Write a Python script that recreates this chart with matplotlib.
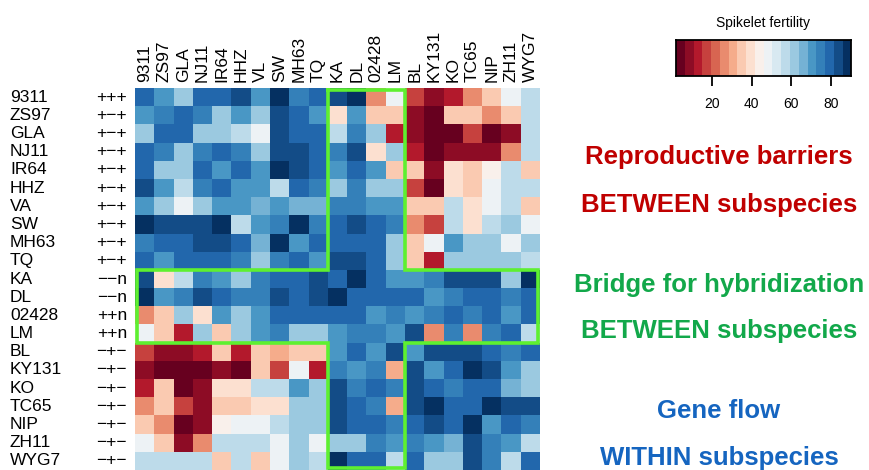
import numpy as np
import matplotlib
matplotlib.use("Agg")
import matplotlib.pyplot as plt
from matplotlib.colors import ListedColormap, BoundaryNorm

plt.rcParams['font.family'] = ['Liberation Sans', 'DejaVu Sans']

lines = ["9311", "ZS97", "GLA", "NJ11", "IR64", "HHZ", "VA", "SW", "MH63", "TQ",
         "KA", "DL", "02428", "LM", "BL", "KY131", "KO", "TC65", "NIP", "ZH11", "WYG7"]
col_lines = ["9311", "ZS97", "GLA", "NJ11", "IR64", "HHZ", "VL", "SW", "MH63", "TQ",
             "KA", "DL", "02428", "LM", "BL", "KY131", "KO", "TC65", "NIP", "ZH11", "WYG7"]
genotypes = ["+++", "+−+", "+−+", "+−+", "+−+", "+−+", "+−+", "+−+", "+−+", "+−+",
             "−−n", "−−n", "++n", "++n", "−+−", "−+−", "−+−", "−+−", "−+−", "−+−", "−+−"]
bridge = ["KA", "DL", "02428", "LM"]

# spikelet fertility (%), female line (rows) x male line (cols)
fert = np.array([
    [81, 72, 63, 81, 81, 83, 72, 90, 76, 81, 83, 90, 25, 47, 19, 7, 12, 25, 33, 47, 55],
    [72, 76, 81, 76, 63, 68, 63, 83, 81, 72, 41, 72, 33, 33, 7, 3, 33, 33, 25, 33, 55],
    [63, 81, 81, 63, 63, 55, 47, 83, 81, 81, 55, 76, 63, 14, 7, 3, 3, 19, 3, 7, 55],
    [81, 76, 63, 76, 81, 76, 63, 83, 83, 81, 76, 83, 41, 63, 12, 3, 7, 7, 7, 25, 55],
    [81, 63, 63, 81, 68, 81, 72, 90, 83, 81, 68, 81, 72, 33, 33, 7, 41, 33, 44, 55, 33],
    [83, 68, 55, 76, 81, 72, 72, 55, 81, 76, 63, 76, 63, 63, 17, 3, 41, 33, 47, 55, 55],
    [72, 63, 47, 63, 72, 72, 66, 72, 66, 66, 76, 76, 68, 72, 33, 33, 55, 41, 47, 55, 33],
    [90, 83, 83, 83, 90, 55, 72, 76, 90, 76, 81, 83, 81, 76, 27, 19, 55, 41, 55, 63, 47],
    [76, 81, 81, 83, 83, 81, 66, 90, 72, 81, 81, 81, 81, 60, 33, 47, 68, 63, 63, 46, 63],
    [81, 72, 81, 81, 81, 76, 63, 76, 81, 72, 83, 83, 81, 63, 33, 12, 63, 63, 63, 63, 55],
    [83, 41, 55, 76, 68, 63, 76, 81, 81, 83, 81, 90, 81, 72, 72, 76, 83, 83, 83, 63, 90],
    [90, 72, 76, 83, 81, 76, 76, 83, 81, 83, 90, 81, 81, 81, 81, 72, 76, 81, 81, 76, 81],
    [25, 33, 63, 41, 72, 63, 68, 81, 81, 81, 81, 81, 72, 76, 72, 76, 81, 76, 81, 68, 81],
    [47, 33, 14, 63, 33, 63, 72, 76, 63, 63, 72, 76, 76, 72, 83, 27, 76, 27, 76, 81, 55],
    [19, 7, 7, 12, 33, 14, 33, 29, 33, 33, 72, 81, 72, 83, 72, 83, 83, 83, 81, 76, 81],
    [7, 3, 3, 3, 7, 3, 33, 19, 47, 12, 76, 72, 76, 29, 83, 72, 81, 90, 83, 72, 63],
    [12, 33, 3, 7, 41, 41, 55, 55, 68, 63, 83, 76, 81, 76, 83, 81, 76, 81, 81, 66, 63],
    [25, 33, 19, 7, 33, 33, 41, 41, 63, 60, 83, 81, 76, 29, 83, 90, 81, 81, 90, 83, 83],
    [33, 25, 3, 7, 43, 47, 47, 55, 63, 63, 83, 81, 81, 76, 81, 83, 81, 90, 72, 81, 76],
    [47, 33, 7, 25, 55, 55, 55, 47, 63, 46, 63, 63, 76, 68, 76, 72, 66, 83, 76, 72, 57],
    [55, 55, 55, 55, 33, 55, 33, 47, 63, 55, 90, 81, 81, 55, 81, 63, 63, 83, 76, 57, 81],
])

vmin, vmax, nlev = 2, 90, 20
cmap = ListedColormap(plt.get_cmap("RdBu")(np.linspace(0, 1, nlev)))
norm = BoundaryNorm(np.linspace(vmin, vmax, nlev + 1), nlev)

fig = plt.figure(figsize=(8.69, 4.70), dpi=100)
W, H = 869, 470

def px_axes(x0, y0, x1, y1):
    return fig.add_axes([x0 / W, 1 - y1 / H, (x1 - x0) / W, (y1 - y0) / H])

# heatmap
ax = px_axes(135, 88, 540, 470)
n = len(lines)
ax.pcolormesh(np.arange(n + 1), np.arange(n + 1), fert, cmap=cmap, norm=norm)
ax.set_xlim(0, n)
ax.set_ylim(n, 0)
ax.set_xticks([])
ax.set_yticks([])
for s in ax.spines.values():
    s.set_visible(False)

for i, name in enumerate(col_lines):
    ax.text(i + 0.5, -0.35, name, rotation=90, ha="center", va="bottom",
            fontsize=12.5)

ytr = ax.get_yaxis_transform()
for j, (name, g) in enumerate(zip(lines, genotypes)):
    ax.text(-125 / 405, j + 0.5, name, ha="left", va="center", fontsize=12.5,
            transform=ytr)
    ax.text(-8 / 405, j + 0.5, g, ha="right", va="center", fontsize=12.5,
            transform=ytr)

# cross-shaped outline around the bridge lines
b0 = lines.index(bridge[0])
b1 = lines.index(bridge[-1]) + 1
e = 0.1
lo, hi = e, n - e
cx = [b0, b1, b1, hi, hi, b1, b1, b0, b0, lo, lo, b0, b0]
cy = [lo, lo, b0, b0, b1, b1, hi, hi, b1, b1, b0, b0, lo]
ax.plot(cx, cy, color="#5ef030", lw=2.6, clip_on=False, solid_joinstyle="miter")

# colour key
cax = px_axes(676, 40, 851, 76)
cb_vals = np.linspace(vmin, vmax, 400)
cax.pcolormesh(cb_vals, [0, 1], cb_vals[None, :-1], cmap=cmap, norm=norm)
cax.set_xlim(vmin, vmax)
cax.set_yticks([])
cax.set_xticks([20, 40, 60, 80])
cax.tick_params(axis="x", length=7, width=1.3, labelsize=10, pad=8)
for s in cax.spines.values():
    s.set_linewidth(1.3)
cax.set_title("Spikelet fertility", fontsize=10, pad=9)

# annotations on the right
notes = [
    ("Reproductive barriers", 157, "#c00000"),
    ("BETWEEN subspecies", 205, "#c00000"),
    ("Bridge for hybridization", 285, "#12a84a"),
    ("BETWEEN subspecies", 331, "#12a84a"),
    ("Gene flow", 411, "#1565c0"),
    ("WITHIN subspecies", 458, "#1565c0"),
]
for txt, y, c in notes:
    fig.text(719 / W, 1 - y / H, txt, ha="center", va="center", color=c,
             fontsize=18.5, fontweight="bold")

fig.savefig("out.png", dpi=100)
